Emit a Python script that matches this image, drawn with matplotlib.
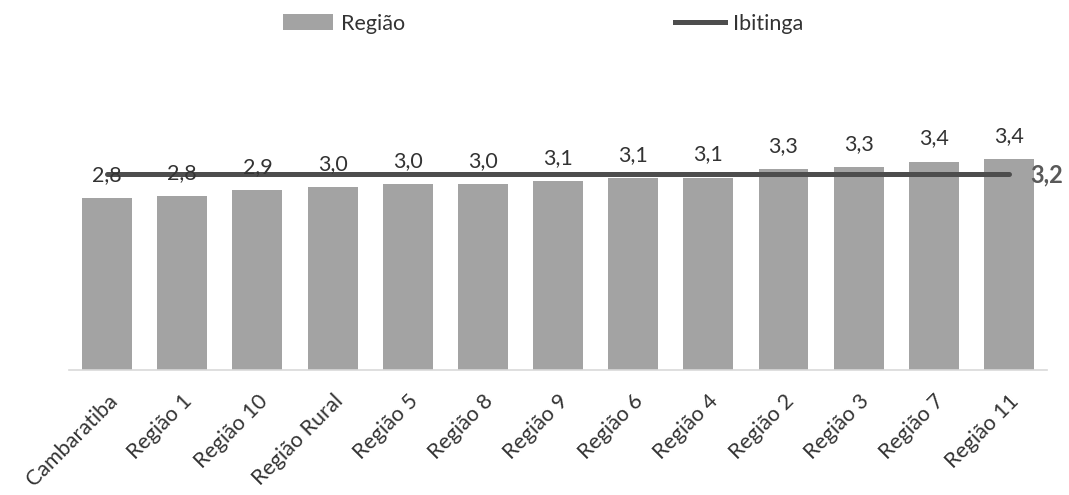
import matplotlib
matplotlib.use("Agg")
import matplotlib.pyplot as plt
from matplotlib.patches import Patch
from matplotlib.lines import Line2D

plt.rcParams['font.family'] = ['Lato', 'DejaVu Sans']

categories = ["Cambaratiba", "Região 1", "Região 10", "Região Rural", "Região 5",
              "Região 8", "Região 9", "Região 6", "Região 4", "Região 2",
              "Região 3", "Região 7", "Região 11"]
regiao = [2.81, 2.84, 2.94, 2.99, 3.03, 3.04, 3.08, 3.13, 3.14, 3.28, 3.31, 3.40, 3.44]
ibitinga_value = 3.2
ibitinga = [ibitinga_value] * len(categories)

bar_color = "#a3a3a3"
line_color = "#4d4d4d"
text_color = "#333333"

fig = plt.figure(figsize=(10.69, 4.95), dpi=100)
ax = fig.add_axes([0.065, 0.2525, 0.914, 0.495])

x = list(range(len(categories)))
ax.bar(x, regiao, width=0.665, color=bar_color, zorder=2)
ax.plot(x, ibitinga, color=line_color, linewidth=3.6, zorder=3, solid_capstyle='round')

for xi, v in zip(x, regiao):
    ax.annotate(f"{v:.1f}".replace(".", ","), (xi, v), xytext=(0, 9.5),
                textcoords="offset points", ha="center", va="bottom",
                fontsize=15.5, color=text_color, zorder=4)

ax.annotate(f"{ibitinga_value:.1f}".replace(".", ","), (x[-1], ibitinga_value),
            xytext=(15, -1), textcoords="offset points", ha="left", va="center",
            fontsize=17, fontweight="bold", color="#595959", zorder=4)

ax.set_xlim(-0.5, len(categories) - 0.5)
ax.set_ylim(0, 4)
ax.set_yticks([])
ax.set_xticks(x)
ax.set_xticklabels(categories, rotation=45, ha="right", va="top",
                   rotation_mode="anchor", fontsize=15.5, color=text_color)
ax.tick_params(axis="x", length=0, pad=15)
for s in ["top", "right", "left"]:
    ax.spines[s].set_visible(False)
ax.spines["bottom"].set_color("#d9d9d9")
ax.spines["bottom"].set_linewidth(1.2)

handles = [Patch(facecolor=bar_color, edgecolor="none"),
           Line2D([0], [0], color=line_color, linewidth=3.6)]
fig.legend(handles, ["Região", "Ibitinga"], loc="center", bbox_to_anchor=(0.508, 0.9525),
           ncol=2, frameon=False, fontsize=15.5, columnspacing=12.5,
           handlelength=2.33, handletextpad=0.37, labelcolor=text_color)

fig.savefig("out.png", dpi=100, facecolor="white")
